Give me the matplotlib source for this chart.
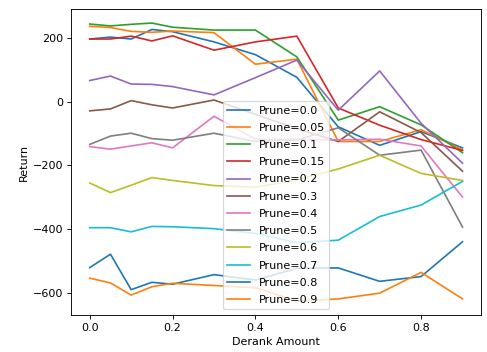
import matplotlib
matplotlib.use("Agg")
import matplotlib.pyplot as plt

derank = [0.0, 0.05, 0.1, 0.15, 0.2, 0.3, 0.4, 0.5, 0.6, 0.7, 0.8, 0.9]

prune_levels = ["0.0", "0.05", "0.1", "0.15", "0.2", "0.3",
                "0.4", "0.5", "0.6", "0.7", "0.8", "0.9"]

ret_00 = [196, 202, 196, 226, 219, 187, 147, 76, -79, -137, -94, -145]
ret_005 = [236, 232, 220, 217, 221, 216, 117, 133, -125, -125, -88, -151]
ret_01 = [243, 237, 242, 246, 233, 224, 224, 140, -58, -16, -73, -160]
ret_015 = [196, 196, 205, 190, 206, 161, 187, 205, -20, -74, -119, -153]
ret_02 = [66, 80, 55, 54, 47, 21, 75, 130, -27, 96, -68, -193]
ret_03 = [-29, -23, 3, -10, -20, 5, -40, -85, -125, -32, -97, -218]
ret_04 = [-141, -149, -139, -129, -145, -46, -118, -118, -120, -118, -139, -299]
ret_05 = [-134, -108, -99, -116, -121, -99, -125, -120, -82, -168, -152, -393]
ret_06 = [-255, -285, -262, -238, -247, -263, -268, -245, -211, -168, -225, -247]
ret_07 = [-395, -395, -408, -391, -392, -398, -413, -442, -434, -360, -324, -250]
ret_08 = [-520, -478, -589, -566, -572, -542, -559, -522, -521, -563, -548, -439]
ret_09 = [-553, -568, -606, -580, -569, -576, -583, -625, -618, -600, -535, -618]

returns = [ret_00, ret_005, ret_01, ret_015, ret_02, ret_03,
           ret_04, ret_05, ret_06, ret_07, ret_08, ret_09]

fig = plt.figure(figsize=(6.0875, 4.4), dpi=80)
ax = fig.add_axes([0.146, 0.105, 0.842, 0.869])

for p, r in zip(prune_levels, returns):
    ax.plot(derank, r, label=f"Prune={p}")

ax.set_xlabel("Derank Amount")
ax.set_ylabel("Return")
ax.legend(loc="lower center", labelspacing=0.65)

fig.savefig("out.png", dpi=80)
